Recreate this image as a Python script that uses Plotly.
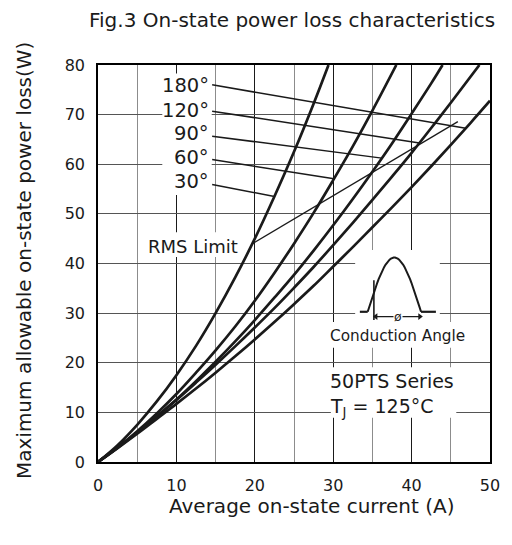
import numpy as np
import plotly.graph_objects as go

FONT = "DejaVu Sans"
INK = "#1a1a1a"

# Average on-state current (A) and maximum allowable power loss (W) per conduction angle
I_30 = [0, 2.5, 5, 7.5, 10, 12.5, 15, 17.5, 20, 22.5, 25, 27.5, 29.4]
P_30 = [0, 3.4, 7.5, 12.2, 17.5, 23.4, 30.0, 37.2, 45.0, 53.5, 62.5, 72.2, 80]
I_60 = [0, 2.5, 5, 7.5, 10, 12.5, 15, 17.5, 20, 22.5, 25, 27.5, 30, 32.5, 35, 38.05]
P_60 = [0, 2.9, 6.2, 9.8, 13.7, 18.0, 22.5, 27.3, 32.5, 38.1, 44.0, 50.2, 56.8, 63.6, 70.8, 80]
I_90 = [0, 2.5, 5, 7.5, 10, 12.5, 15, 17.5, 20, 22.5, 25, 27.5, 30, 32.5, 35, 37.5, 40, 42.5, 43.95]
P_90 = [0, 2.9, 5.9, 9.2, 12.6, 16.3, 20.2, 24.3, 28.6, 33.1, 37.7, 42.6, 47.7, 53.0, 58.5, 64.2, 70.2, 76.3, 80]
I_120 = [0, 2.5, 5, 7.5, 10, 12.5, 15, 17.5, 20, 22.5, 25, 27.5, 30, 32.5, 35, 37.5, 40, 42.5, 45, 48.65]
P_120 = [0, 3.0, 6.0, 9.2, 12.5, 16.0, 19.6, 23.3, 27.1, 31.0, 35.1, 39.3, 43.7, 48.2, 52.8, 57.5, 62.3, 67.3, 72.4, 80]
I_180 = [0, 2.5, 5, 7.5, 10, 12.5, 15, 17.5, 20, 22.5, 25, 27.5, 30, 32.5, 35, 37.5, 40, 42.5, 45, 47.5, 50]
P_180 = [0, 2.8, 5.7, 8.7, 11.7, 14.8, 18.0, 21.3, 24.7, 28.2, 31.8, 35.5, 39.4, 43.3, 47.3, 51.3, 55.4, 59.6, 63.9, 68.3, 72.8]

ANGLE_LABELS = ["30°", "60°", "90°", "120°", "180°"]
LABEL_Y = [56.6, 61.3, 66.2, 70.9, 75.8]        # label text centres
LEADER_Y0 = [55.9, 60.95, 65.65, 70.7, 76.0]    # leader start beside each label
LEADER_I = [22.5, 30.1, 36.2, 41.0, 46.9]       # where each leader meets its curve
LABEL_X = 14.36
LEADER_X0 = 14.56

# RMS current limit line
RMS_I = [19.6, 45.9]
RMS_P = [43.9, 68.6]

X_TICKS = [0, 10, 20, 30, 40, 50]
Y_TICKS = [0, 10, 20, 30, 40, 50, 60, 70, 80]

curves = [(I_30, P_30), (I_60, P_60), (I_90, P_90), (I_120, P_120), (I_180, P_180)]

fig = go.Figure()

for name, (xs, ys) in zip(ANGLE_LABELS, curves):
    fig.add_trace(go.Scatter(
        x=xs, y=ys, mode="lines", name=name, showlegend=False,
        line=dict(color=INK, width=2.7, shape="spline", smoothing=1.0),
        hoverinfo="skip"))

# leaders from the angle labels to their curves
for (xs, ys), y0, xi in zip(curves, LEADER_Y0, LEADER_I):
    y1 = float(np.interp(xi, xs, ys))
    fig.add_trace(go.Scatter(
        x=[LEADER_X0, xi], y=[y0, y1], mode="lines", showlegend=False,
        line=dict(color=INK, width=1.5), hoverinfo="skip"))

fig.add_trace(go.Scatter(
    x=RMS_I, y=RMS_P, mode="lines", showlegend=False,
    line=dict(color=INK, width=1.3), hoverinfo="skip"))


# white boxes that interrupt the grid behind the text blocks
def white_box(x0, x1, y0, y1):
    fig.add_shape(type="rect", xref="x", yref="y", x0=x0, x1=x1, y0=y0, y1=y1,
                  fillcolor="white", line=dict(width=0), layer="between")


white_box(8.2, 14.5, 53.8, 78.3)      # angle labels
white_box(6.1, 18.3, 41.3, 46.3)      # RMS Limit
white_box(32.8, 43.6, 28.2, 42.7)     # conduction-angle sketch
white_box(29.3, 46.6, 23.0, 28.2)     # "Conduction Angle"
white_box(29.7, 45.7, 8.9, 19.1)      # series / junction temperature

for txt, y in zip(ANGLE_LABELS, LABEL_Y):
    fig.add_annotation(x=LABEL_X, y=y, xref="x", yref="y", text=txt,
                       showarrow=False, xanchor="right", yanchor="middle",
                       font=dict(family=FONT, size=19.5, color=INK))

fig.add_annotation(x=12.14, y=43.5, xref="x", yref="y", text="RMS Limit",
                   showarrow=False, xanchor="center", yanchor="middle",
                   font=dict(family=FONT, size=18, color=INK))

# conduction-angle sketch: baseline, half-sine hump, firing edge, angle arrow
BASE_Y = 30.27
HUMP_X0, HUMP_X1, HUMP_TOP = 34.4, 41.2, 41.2
FIRE_X = 35.19
ARROW_Y = 29.3
ARROW_X1 = 41.3
hx = np.linspace(HUMP_X0, HUMP_X1, 40)
hy = BASE_Y + (HUMP_TOP - BASE_Y) * np.sin(np.pi * (hx - HUMP_X0) / (HUMP_X1 - HUMP_X0))
fig.add_trace(go.Scatter(x=hx, y=hy, mode="lines", showlegend=False,
                         line=dict(color=INK, width=2), hoverinfo="skip"))
fig.add_trace(go.Scatter(x=[33.4, HUMP_X0], y=[BASE_Y, BASE_Y], mode="lines",
                         showlegend=False, line=dict(color=INK, width=2.2),
                         hoverinfo="skip"))
fig.add_trace(go.Scatter(x=[HUMP_X1, 43.1], y=[BASE_Y, BASE_Y], mode="lines",
                         showlegend=False, line=dict(color=INK, width=2.2),
                         hoverinfo="skip"))
fig.add_trace(go.Scatter(x=[FIRE_X, FIRE_X], y=[28.6, 36.6], mode="lines",
                         showlegend=False, line=dict(color=INK, width=1.6),
                         hoverinfo="skip"))
fig.add_trace(go.Scatter(x=[FIRE_X + 0.25, ARROW_X1 - 0.25], y=[ARROW_Y, ARROW_Y],
                         mode="lines+markers", showlegend=False,
                         line=dict(color=INK, width=1.4),
                         marker=dict(symbol=["triangle-left", "triangle-right"],
                                     size=6, color=INK),
                         hoverinfo="skip"))
mid = (FIRE_X + ARROW_X1) / 2
fig.add_annotation(x=mid, y=ARROW_Y, xref="x", yref="y", text="ø",
                   showarrow=False, bgcolor="white", borderpad=0,
                   font=dict(family=FONT, size=12.5, color=INK))

fig.add_annotation(x=38.2, y=25.3, xref="x", yref="y", text="Conduction Angle",
                   showarrow=False, xanchor="center", yanchor="middle",
                   font=dict(family=FONT, size=15.3, color=INK))
fig.add_annotation(x=29.3, y=16.3, xref="x", yref="y", text="50PTS Series",
                   showarrow=False, xanchor="left", yanchor="middle",
                   font=dict(family=FONT, size=19, color=INK))
fig.add_annotation(x=29.3, y=10.9, xref="x", yref="y", text="T<sub>J</sub> = 125°C",
                   showarrow=False, xanchor="left", yanchor="middle",
                   font=dict(family=FONT, size=19, color=INK))

# titles
fig.add_annotation(x=0.4937, y=1.1125, xref="paper", yref="paper",
                   text="Fig.3 On-state power loss characteristics",
                   showarrow=False, xanchor="center", yanchor="middle",
                   font=dict(family=FONT, size=20, color=INK))
fig.add_annotation(x=0.545, y=-0.111, xref="paper", yref="paper",
                   text="Average on-state current (A)",
                   showarrow=False, xanchor="center", yanchor="middle",
                   font=dict(family=FONT, size=20, color=INK))
fig.add_annotation(x=-0.187, y=0.508, xref="paper", yref="paper",
                   text="Maximum allowable on-state power loss(W)", textangle=-90,
                   showarrow=False, xanchor="center", yanchor="middle",
                   font=dict(family=FONT, size=20, color=INK))

fig.update_xaxes(range=[0, 50], tickvals=X_TICKS, showgrid=True,
                 gridcolor="#1a1a1a", gridwidth=1.2,
                 minor=dict(dtick=5, showgrid=True, gridcolor="#8c8c8c", gridwidth=1.2),
                 zeroline=False, showline=True, mirror=True, linecolor="black",
                 linewidth=1.6, ticks="", ticklabelstandoff=8,
                 tickfont=dict(family=FONT, size=16, color=INK))
fig.update_yaxes(range=[0, 80], tickvals=Y_TICKS, showgrid=True,
                 gridcolor="#555555", gridwidth=1.2,
                 zeroline=False, showline=True, mirror=True, linecolor="black",
                 linewidth=1.6, ticks="", ticklabelstandoff=8,
                 tickfont=dict(family=FONT, size=16, color=INK))

fig.update_layout(width=512, height=545, paper_bgcolor="white", plot_bgcolor="white",
                  margin=dict(l=98, r=18, t=65, b=83), showlegend=False)

fig.write_html("out.html")
